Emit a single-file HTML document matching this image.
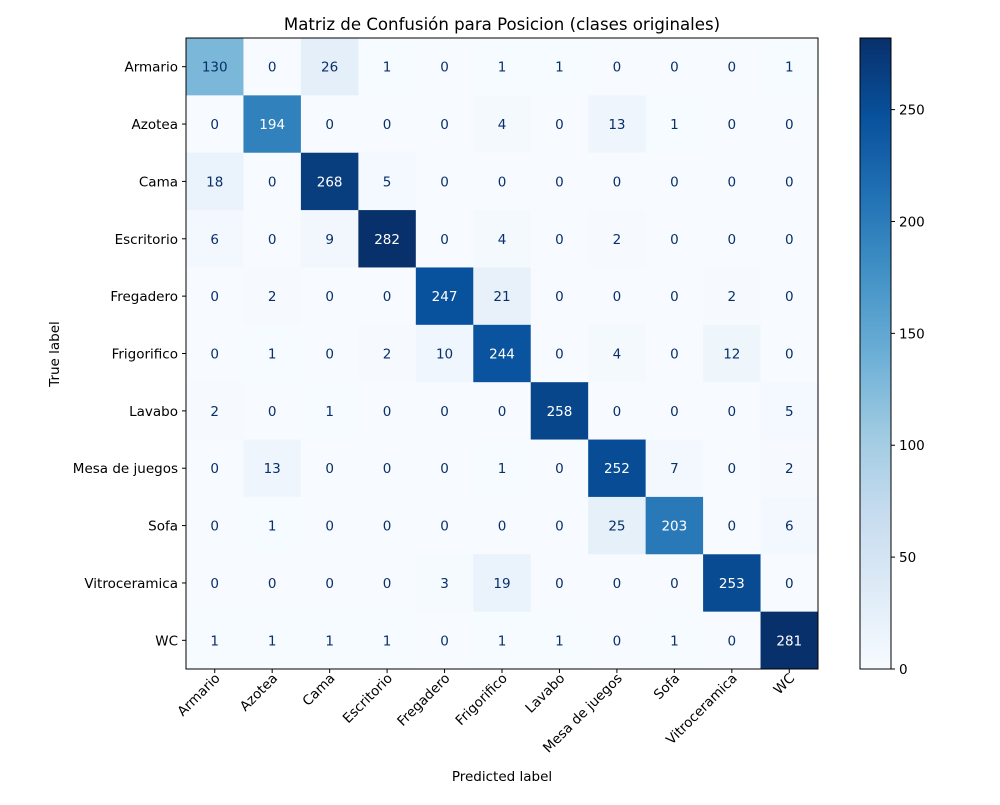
<!DOCTYPE html>
<html><head><meta charset="utf-8"><style>
body{margin:0;background:#fff}
svg{font-family:"DejaVu Sans","Liberation Sans",sans-serif}
</style></head><body>
<svg id="c" width="1000" height="800" xmlns="http://www.w3.org/2000/svg">
<text x="502" y="30" font-size="16.6" text-anchor="middle">Matriz de Confusión para Posicion (clases originales)</text>
<g id="cells"></g>
<g id="axes"></g>
<defs><linearGradient id="cg" x1="0" y1="1" x2="0" y2="0">
<stop offset="0" stop-color="#f7fbff"/><stop offset="0.125" stop-color="#deebf7"/><stop offset="0.25" stop-color="#c6dbef"/><stop offset="0.375" stop-color="#9ecae1"/><stop offset="0.5" stop-color="#6baed6"/><stop offset="0.625" stop-color="#4292c6"/><stop offset="0.75" stop-color="#2171b5"/><stop offset="0.875" stop-color="#08519c"/><stop offset="1" stop-color="#08306b"/>
</linearGradient></defs>
<rect x="860" y="38" width="31" height="631" fill="url(#cg)" stroke="#000" stroke-width="1"/>
<g id="cbar"></g>
<text x="502" y="781" font-size="13.5" text-anchor="middle">Predicted label</text>
<text transform="translate(59,354) rotate(-90)" font-size="13.5" text-anchor="middle">True label</text>
</svg>
<script>
const labels=["Armario","Azotea","Cama","Escritorio","Fregadero","Frigorifico","Lavabo","Mesa de juegos","Sofa","Vitroceramica","WC"];
const row0=[130,0,26,1,0,1,1,0,0,0,1];
const row1=[0,194,0,0,0,4,0,13,1,0,0];
const row2=[18,0,268,5,0,0,0,0,0,0,0];
const row3=[6,0,9,282,0,4,0,2,0,0,0];
const row4=[0,2,0,0,247,21,0,0,0,2,0];
const row5=[0,1,0,2,10,244,0,4,0,12,0];
const row6=[2,0,1,0,0,0,258,0,0,0,5];
const row7=[0,13,0,0,0,1,0,252,7,0,2];
const row8=[0,1,0,0,0,0,0,25,203,0,6];
const row9=[0,0,0,0,3,19,0,0,0,253,0];
const row10=[1,1,1,1,0,1,1,0,1,0,281];
const cbTicks=[0,50,100,150,200,250];
const matrix=[row0,row1,row2,row3,row4,row5,row6,row7,row8,row9,row10];
const NS="http://www.w3.org/2000/svg";
const X0=186,X1=818,Y0=38,Y1=669,n=labels.length;
const cw=(X1-X0)/n,ch=(Y1-Y0)/n;
const FS=13.5;
let vmax=0;matrix.forEach(r=>r.forEach(v=>{if(v>vmax)vmax=v;}));
const stops=["#f7fbff","#deebf7","#c6dbef","#9ecae1","#6baed6","#4292c6","#2171b5","#08519c","#08306b"].map(h=>[1,3,5].map(i=>parseInt(h.substr(i,2),16)));
function color(v){let t=Math.max(0,Math.min(1,v/vmax))*8;let i=Math.min(7,Math.floor(t));let f=t-i;let c=stops[i].map((a,k)=>Math.round(a+(stops[i+1][k]-a)*f));return `rgb(${c})`;}
function xs(j){return X0+j*cw;}function ys(i){return Y0+i*ch;}
function cbY(v){return Y1-(v/vmax)*(Y1-Y0);}
function mk(tag,attrs,parent){const e=document.createElementNS(NS,tag);for(const k in attrs)e.setAttribute(k,attrs[k]);parent.appendChild(e);return e;}
const cells=document.getElementById('cells'),axes=document.getElementById('axes'),cbar=document.getElementById('cbar');
matrix.forEach((r,i)=>r.forEach((v,j)=>{
 const rc=mk('rect',{x:xs(j),y:ys(i),width:cw+0.5,height:ch+0.5,fill:color(v)},cells);
 
 
 const t=mk('text',{x:xs(j)+cw/2,y:ys(i)+ch/2+5,'font-size':FS,'text-anchor':'middle',fill:v>vmax/2?'#fff':'#08306b'},cells);
 t.textContent=v;
 
 
}));
const fr=mk('rect',{x:X0,y:Y0,width:X1-X0,height:Y1-Y0,fill:'none',stroke:'#000','stroke-width':1},axes);


labels.forEach((l,k)=>{
 const cx=xs(k)+cw/2,cy=ys(k)+ch/2;
 mk('line',{x1:cx,y1:Y1,x2:cx,y2:Y1+4,stroke:'#000'},axes);
 const tx=mk('text',{transform:`translate(${cx+6},${Y1+10}) rotate(-45)`,'font-size':FS,'text-anchor':'end'},axes);
 tx.textContent=l;
 
 
 mk('line',{x1:X0-4,y1:cy,x2:X0,y2:cy,stroke:'#000'},axes);
 const ty=mk('text',{x:X0-8,y:cy+5,'font-size':FS,'text-anchor':'end'},axes);
 ty.textContent=l;
 
 
});
cbTicks.forEach(v=>{
 const y=cbY(v);
 mk('line',{x1:891,y1:y,x2:895,y2:y,stroke:'#000'},cbar);
 const t=mk('text',{x:899,y:y+5,'font-size':FS},cbar);
 t.textContent=v;
 
 
});
</script>
</body></html>
